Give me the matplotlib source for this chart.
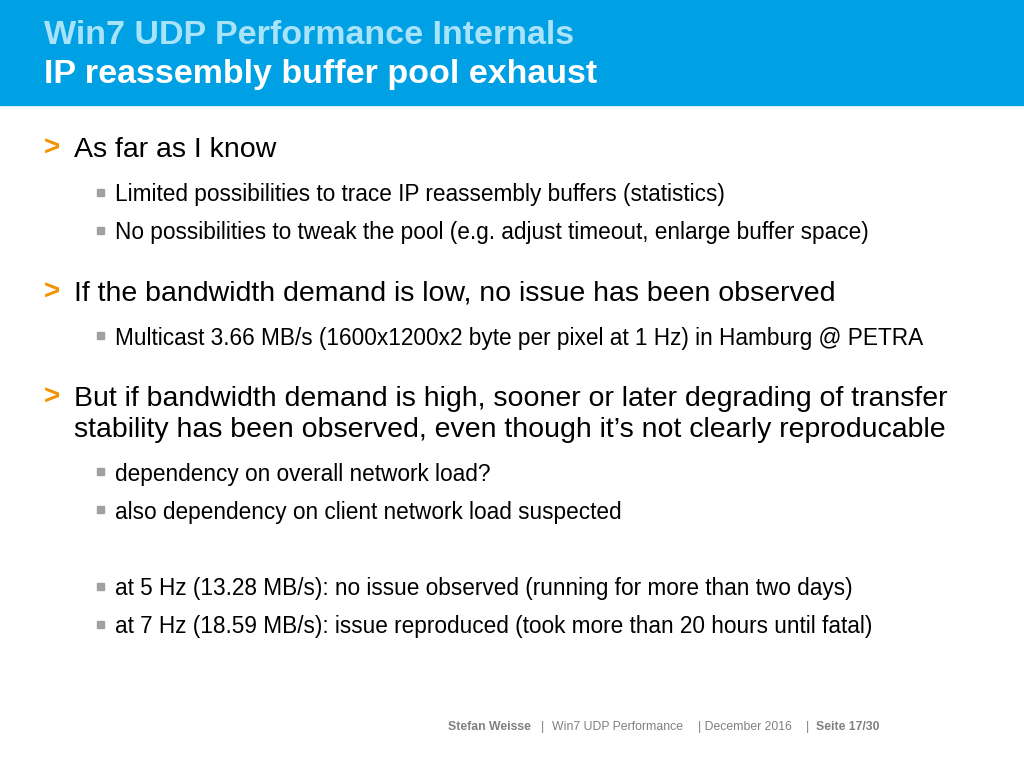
import matplotlib.pyplot as plt
from matplotlib.patches import Rectangle

plt.rcParams['font.family'] = 'Liberation Sans'

# slide content
title_top = "Win7 UDP Performance Internals"
title_main = "IP reassembly buffer pool exhaust"

# (level, text, y in px); level 0 = continuation line of a level 1 bullet
lines = [
    (1, "As far as I know", 147),
    (2, "Limited possibilities to trace IP reassembly buffers (statistics)", 192),
    (2, "No possibilities to tweak the pool (e.g. adjust timeout, enlarge buffer space)", 230),
    (1, "If the bandwidth demand is low, no issue has been observed", 291),
    (2, "Multicast 3.66 MB/s (1600x1200x2 byte per pixel at 1 Hz) in Hamburg @ PETRA", 335),
    (1, "But if bandwidth demand is high, sooner or later degrading of transfer", 396),
    (0, "stability has been observed, even though it\u2019s not clearly reproducable", 427),
    (2, "dependency on overall network load?", 471),
    (2, "also dependency on client network load suspected", 509),
    (2, "at 5 Hz (13.28 MB/s): no issue observed (running for more than two days)", 586),
    (2, "at 7 Hz (18.59 MB/s): issue reproduced (took more than 20 hours until fatal)", 624),
]

# footer pieces: (text, x px, bold)
footer = [
    ("Stefan Weisse", 448, True),
    ("|", 541, False),
    ("Win7 UDP Performance", 552, False),
    ("| December 2016", 698, False),
    ("|", 806, False),
    ("Seite 17/30", 816, True),
]

W, H = 1024, 768
fig = plt.figure(figsize=(W / 100, H / 100), dpi=100)
ax = fig.add_axes([0, 0, 1, 1])
ax.set_xlim(0, W)
ax.set_ylim(H, 0)
ax.axis('off')

# header band
ax.add_patch(Rectangle((0, 0), W, 105, color='#00a0e4', zorder=0))
ax.text(44, 35, title_top, color='#a9e3fa', fontsize=24.5, fontweight='bold', va='center')
ax.text(44, 75, title_main, color='white', fontsize=24.5, fontweight='bold', va='center')

for level, txt, y in lines:
    y = y + 3
    if level == 1:
        ax.text(44, y - 1, '>', color='#f39200', fontsize=20, fontweight='bold', va='center')
    if level in (0, 1):
        ax.text(74, y, txt, color='black', fontsize=20.5, va='center')
    else:
        ax.add_patch(Rectangle((97, y - 6), 7, 7, color='#a0a0a0'))
        ax.text(115, y, txt, color='black', fontsize=16.3, va='center')

for txt, x, bold in footer:
    ax.text(x, 727, txt, color='#808080', fontsize=8.8,
            fontweight='bold' if bold else 'normal', va='center')

fig.savefig('out.png', dpi=100)
